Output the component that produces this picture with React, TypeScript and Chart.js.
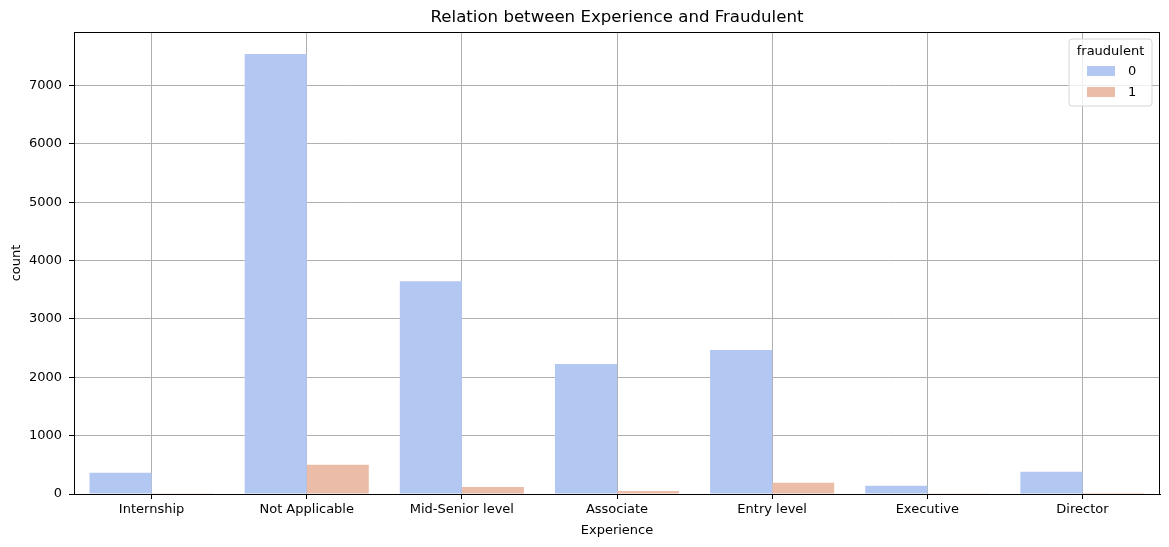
import React, { useEffect, useRef } from "react";
import { Chart, registerables } from "chart.js";

Chart.register(...registerables);

const categories = [
  "Internship",
  "Not Applicable",
  "Mid-Senior level",
  "Associate",
  "Entry level",
  "Executive",
  "Director",
];
const seriesLabels = ["0", "1"];
const values0 = [365, 7540, 3647, 2226, 2466, 142, 382];
const values1 = [12, 502, 118, 50, 192, 12, 15];
const yTicks = [0, 1000, 2000, 3000, 4000, 5000, 6000, 7000];
const colors = ["#b3c7f3", "#ebbca7"];

const W = 1169;
const H = 547;

const framePlugin = {
  id: "frameAndLegend",
  afterDraw(chart: any) {
    const { ctx, chartArea } = chart;
    const { left, right, top, bottom } = chartArea;
    ctx.save();
    // frame
    ctx.strokeStyle = "#000";
    ctx.lineWidth = 1;
    ctx.strokeRect(Math.round(left) + 0.5, Math.round(top) + 0.5, Math.round(right - left) - 1, Math.round(bottom - top));
    // legend
    const bw = 83;
    const bh = 67;
    const bx = right - 8 - bw;
    const by = top + 7;
    const r = 3;
    ctx.beginPath();
    ctx.moveTo(bx + r, by);
    ctx.lineTo(bx + bw - r, by);
    ctx.quadraticCurveTo(bx + bw, by, bx + bw, by + r);
    ctx.lineTo(bx + bw, by + bh - r);
    ctx.quadraticCurveTo(bx + bw, by + bh, bx + bw - r, by + bh);
    ctx.lineTo(bx + r, by + bh);
    ctx.quadraticCurveTo(bx, by + bh, bx, by + bh - r);
    ctx.lineTo(bx, by + r);
    ctx.quadraticCurveTo(bx, by, bx + r, by);
    ctx.closePath();
    ctx.fillStyle = "rgba(255,255,255,0.8)";
    ctx.fill();
    ctx.strokeStyle = "#d6d6d6";
    ctx.stroke();
    ctx.fillStyle = "#000";
    ctx.font = "13px 'DejaVu Sans'";
    ctx.textAlign = "center";
    ctx.textBaseline = "middle";
    ctx.fillText("fraudulent", bx + bw / 2, by + 13);
    seriesLabels.forEach((lab, i) => {
      const cy = by + 32 + i * 21;
      ctx.fillStyle = colors[i];
      ctx.fillRect(bx + 18, cy - 5, 28, 10);
      ctx.fillStyle = "#000";
      ctx.textAlign = "left";
      ctx.fillText(lab, bx + 59, cy + 1);
    });
    ctx.restore();
  },
};

export default function App() {
  const ref = useRef<HTMLCanvasElement>(null);
  useEffect(() => {
    document.body.style.margin = "0";
    Chart.defaults.font.family = "'DejaVu Sans'";
    Chart.defaults.color = "#000";
    const chart = new Chart(ref.current!, {
      type: "bar",
      data: {
        labels: categories,
        datasets: [
          { label: seriesLabels[0], data: values0, backgroundColor: colors[0], borderWidth: 0, categoryPercentage: 0.8, barPercentage: 1.0 },
          { label: seriesLabels[1], data: values1, backgroundColor: colors[1], borderWidth: 0, categoryPercentage: 0.8, barPercentage: 1.0 },
        ],
      },
      options: {
        responsive: false,
        animation: false,
        devicePixelRatio: 1,
        layout: { padding: { left: 0, right: 9, top: 0, bottom: 0 } },
        plugins: {
          legend: { display: false },
          tooltip: { enabled: false },
          title: {
            display: true,
            text: "Relation between Experience and Fraudulent",
            fullSize: false,
            font: { size: 16.6, weight: "normal" },
            color: "#000",
            padding: { top: 8, bottom: 4.1 },
          },
        },
        scales: {
          x: {
            z: 1,
            grid: { offset: false, color: "#b0b0b0", lineWidth: 1, tickColor: "#000", tickLength: 5, drawTicks: true },
            border: { display: true, color: "#000" },
            ticks: { font: { size: 13 }, color: "#000", padding: 3, maxRotation: 0 },
            title: { display: true, text: "Experience", font: { size: 13 }, color: "#000", padding: { top: 0, bottom: 9 } },
            afterFit: (s: any) => { s.height = 53; },
          },
          y: {
            z: 1,
            min: 0,
            max: 7917,
            afterBuildTicks: (s: any) => { s.ticks = yTicks.map((v) => ({ value: v })); },
            grid: { color: "#b0b0b0", lineWidth: 1, tickColor: "#000", tickLength: 5, drawTicks: true },
            border: { display: true, color: "#000" },
            ticks: { font: { size: 13 }, color: "#000", padding: 7, callback: (v: any) => String(v) },
            title: { display: true, text: "count", font: { size: 13 }, color: "#000", padding: { top: 9, bottom: 0 } },
            afterFit: (s: any) => { s.width = 74; },
          },
        },
      },
      plugins: [framePlugin],
    });
    return () => chart.destroy();
  }, []);
  return (
    <div style={{ width: W, height: H, background: "#fff" }}>
      <canvas ref={ref} width={W} height={H} style={{ display: "block" }} />
    </div>
  );
}
